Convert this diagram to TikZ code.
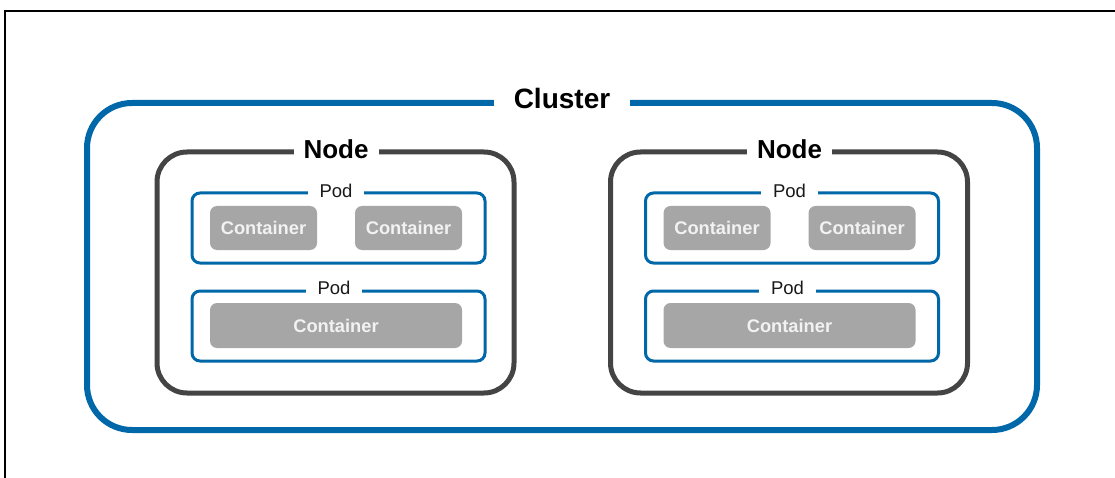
\documentclass[tikz,border=0pt]{standalone}
\usepackage{fontspec}
\setmainfont{Liberation Sans}
\definecolor{kblue}{HTML}{0068A8}
\definecolor{kdark}{HTML}{444444}
\definecolor{kgrey}{HTML}{A6A6A6}
\definecolor{ktext}{HTML}{F2F2F2}
\tikzset{
  box/.style={rectangle, outer sep=0pt, inner sep=0pt},
  clusterbox/.style={box, draw=kblue, line width=6pt, rounded corners=45pt},
  hostbox/.style={box, draw=kdark, line width=5pt, rounded corners=30pt},
  podbox/.style={box, draw=kblue, line width=3pt, rounded corners=8pt},
  ctrbox/.style={box, fill=kgrey, rounded corners=7pt, text=ktext,
    font=\fontsize{18.3}{21}\selectfont\bfseries},
  tag/.style={fill=white, inner ysep=3pt, outer sep=0pt},
  clustertag/.style={tag, inner xsep=20pt, font=\fontsize{28}{32}\selectfont\bfseries},
  hosttag/.style={tag, inner xsep=10pt, font=\fontsize{26}{30}\selectfont\bfseries},
  podtag/.style={tag, inner xsep=12pt, text=black!90, font=\fontsize{18.5}{21}\selectfont},
}
\begin{document}
\begin{tikzpicture}[x=1pt, y=-1pt]
  \useasboundingbox (0,0) rectangle (1115,478);
  % page frame
  \coordinate (fbl) at (5,478);
  \coordinate (ftl) at (5,11);
  \coordinate (ftr) at (1115,11);
  \draw[line width=1.3pt, black] (fbl) -- (ftl) -- (ftr);

  % cluster
  \node[clusterbox, minimum width=950pt, minimum height=327pt] (cluster) at (562,266.5) {};
  \node[clustertag] (clusterlbl) at (562,98) {Cluster};

  % two hosts, each with two pods
  \foreach \dx/\h in {0/a, 453.5/b} {
    \node[hostbox, minimum width=357pt, minimum height=241pt] (host\h) at (335.5+\dx,272.5) {};
    \node[hosttag] (host\h lbl) at (336+\dx,149) {Node};

    \node[podbox, minimum width=293pt, minimum height=70pt] (pod\h1) at (338.5+\dx,228) {};
    \node[podtag] (pod\h1lbl) at (336+\dx,191) {Pod};
    \node[ctrbox, minimum width=107pt, minimum height=44pt] (ctr\h1) at (263.5+\dx,228) {Container};
    \node[ctrbox, minimum width=107pt, minimum height=44pt] (ctr\h2) at (408.5+\dx,228) {Container};

    \node[podbox, minimum width=293pt, minimum height=70pt] (pod\h2) at (338.5+\dx,326) {};
    \node[podtag] (pod\h2lbl) at (334+\dx,288) {Pod};
    \node[ctrbox, minimum width=252pt, minimum height=45pt] (ctr\h3) at (336+\dx,325.5) {Container};
  }
\end{tikzpicture}
\end{document}
